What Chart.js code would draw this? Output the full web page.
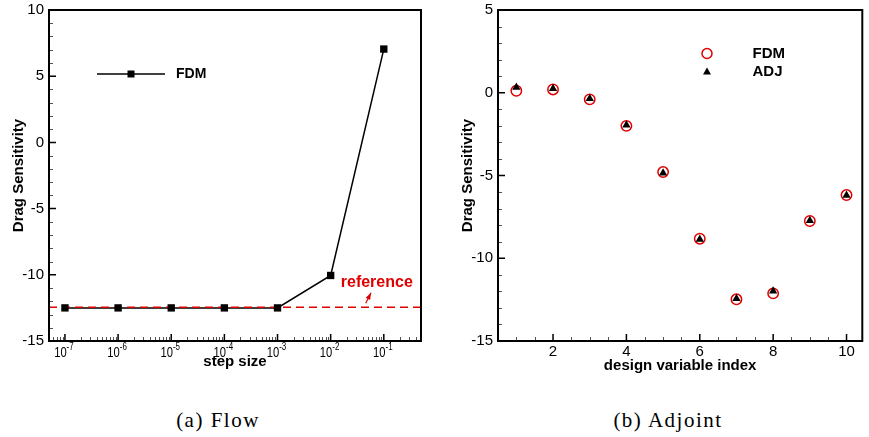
<!DOCTYPE html>
<html lang="en">
<head>
<meta charset="UTF-8">
<title>Drag Sensitivity</title>
<script src="https://cdn.jsdelivr.net/npm/chart.js"></script>
<style>
  body, html { margin: 0; padding: 0; background: #fff; }
  #wrap { position: relative; width: 869px; height: 437px; overflow: hidden; }
  canvas { position: absolute; top: 0; }
  #flowChart { left: 0; }
  #adjChart { left: 440px; }
  .cap { position: absolute; top: 410px; line-height: 21px; font-family: "Liberation Serif", "Times New Roman", serif;
         font-size: 21px; letter-spacing: 1.5px; transform: translateX(-50%); white-space: nowrap; color: #000; }
</style>
</head>
<body>
<div id="wrap">
  <canvas id="flowChart" width="440" height="380"></canvas>
  <canvas id="adjChart" width="429" height="380"></canvas>
  <div class="cap" style="left:218px">(a) Flow</div>
  <div class="cap" style="left:668px">(b) Adjoint</div>
</div>

<script>
// (a) flow: FDM sensitivity vs finite difference step size
const stepSizes = [1e-7, 1e-6, 1e-5, 1e-4, 1e-3, 1e-2, 1e-1];
const fdmFlow = [-12.5, -12.5, -12.5, -12.5, -12.5, -10.05, 7.05];
const referenceValue = -12.45;
const stepExponents = [-7, -6, -5, -4, -3, -2, -1];
const flowYTicks = [-15, -10, -5, 0, 5, 10];

// (b) adjoint: FDM vs ADJ per design variable
const designIndex = [1, 2, 3, 4, 5, 6, 7, 8, 9, 10];
const fdmAdj = [0.12, 0.2, -0.4, -2.0, -4.79, -8.82, -12.48, -12.12, -7.75, -6.18];
const adjAdj = [0.33, 0.25, -0.35, -1.95, -4.85, -8.86, -12.44, -11.98, -7.72, -6.2];
const adjXTicks = [2, 4, 6, 8, 10];
const adjYTicks = [-15, -10, -5, 0, 5];

const RED = '#e00000';
const SANS = '"Liberation Sans", Arial, sans-serif';
const FLOW_XMIN = Math.pow(10, -7.3), FLOW_XMAX = Math.pow(10, -0.3);

function range(a, b, step) {
  const out = [];
  for (let v = a; v <= b + 1e-9; v += step) out.push(Math.round(v * 100) / 100);
  return out;
}

function tick(ctx, x1, y1, x2, y2) { ctx.moveTo(x1, y1); ctx.lineTo(x2, y2); }

// draws frame, inward ticks, labels, titles and legend for one panel
const framePlugin = {
  id: 'frame',
  afterDraw(chart, args, cfg) {
    const { ctx, chartArea: a } = chart;
    const x = chart.scales.x, y = chart.scales.y;
    ctx.save();

    ctx.strokeStyle = '#555';
    ctx.lineWidth = 1;
    ctx.beginPath();
    cfg.yMinor.forEach(v => { const p = Math.round(y.getPixelForValue(v)) + 0.5; tick(ctx, a.left, p, a.left + 4, p); });
    cfg.xMinor.forEach(v => { const p = Math.round(x.getPixelForValue(v)) + 0.5; tick(ctx, p, a.bottom, p, a.bottom - 4); });
    ctx.stroke();

    ctx.strokeStyle = '#000';
    ctx.lineWidth = 1.5;
    ctx.beginPath();
    cfg.yMajor.forEach(v => { const p = y.getPixelForValue(v); tick(ctx, a.left, p, a.left + 7, p); });
    cfg.xMajor.forEach(v => { const p = x.getPixelForValue(v); tick(ctx, p, a.bottom, p, a.bottom - 7); });
    ctx.stroke();

    ctx.lineWidth = 2;
    ctx.strokeRect(a.left, a.top, a.right - a.left, a.bottom - a.top);

    // y tick labels
    ctx.fillStyle = '#000';
    ctx.font = '15px ' + SANS;
    ctx.textAlign = 'right';
    ctx.textBaseline = 'middle';
    cfg.yMajor.forEach(v => ctx.fillText(String(v), a.left - 5, y.getPixelForValue(v)));

    // x tick labels
    cfg.xLabel(ctx, x, a);

    // axis titles
    ctx.font = 'bold 15px ' + SANS;
    ctx.textAlign = 'center';
    ctx.textBaseline = 'middle';
    ctx.fillText(cfg.xTitle, (a.left + a.right) / 2, cfg.xTitleY);
    ctx.save();
    ctx.translate(cfg.yTitleX, (a.top + a.bottom) / 2);
    ctx.rotate(-Math.PI / 2);
    ctx.fillText('Drag Sensitivity', 0, 0);
    ctx.restore();

    cfg.extra(ctx, x, y, a);
    ctx.restore();
  }
};

function flowXLabels(ctx, x, a) {
  stepSizes.forEach((s, i) => {
    const px = x.getPixelForValue(s) - 1;
    const exp = String(stepExponents[i]);
    ctx.save();
    ctx.translate(px, 356.5);
    ctx.scale(0.8, 1);
    ctx.font = '14px ' + SANS;
    const w1 = ctx.measureText('10').width;
    ctx.font = '10px ' + SANS;
    const w2 = ctx.measureText(exp).width;
    const start = -(w1 + w2) / 2;
    ctx.textAlign = 'left';
    ctx.textBaseline = 'alphabetic';
    ctx.font = '14px ' + SANS;
    ctx.fillText('10', start, 0);
    ctx.font = '10px ' + SANS;
    ctx.fillText(exp, start + w1, -7);
    ctx.restore();
  });
}

function flowExtra(ctx, x, y, a) {
  // legend
  ctx.strokeStyle = '#000';
  ctx.lineWidth = 1.5;
  ctx.beginPath();
  ctx.moveTo(97, 74);
  ctx.lineTo(165, 74);
  ctx.stroke();
  ctx.fillStyle = '#000';
  ctx.fillRect(131 - 3.5, 74 - 3.5, 7, 7);
  ctx.font = 'bold 14px ' + SANS;
  ctx.textAlign = 'left';
  ctx.textBaseline = 'middle';
  ctx.fillText('FDM', 176, 74);

  // reference annotation
  ctx.fillStyle = RED;
  ctx.font = 'bold 16px ' + SANS;
  ctx.fillText('reference', x.getPixelForValue(Math.pow(10, -1.81)), y.getPixelForValue(-10.6));
  const x0 = x.getPixelForValue(Math.pow(10, -1.34)), y0 = y.getPixelForValue(-12.15);
  const x1 = x.getPixelForValue(Math.pow(10, -1.24)), y1 = y.getPixelForValue(-11.35);
  ctx.strokeStyle = RED;
  ctx.lineWidth = 1.2;
  ctx.beginPath();
  ctx.moveTo(x0, y0);
  ctx.lineTo(x1, y1);
  ctx.stroke();
  const ang = Math.atan2(y1 - y0, x1 - x0);
  ctx.beginPath();
  ctx.moveTo(x1, y1);
  ctx.lineTo(x1 - 7 * Math.cos(ang) + 2.5 * Math.sin(ang), y1 - 7 * Math.sin(ang) - 2.5 * Math.cos(ang));
  ctx.lineTo(x1 - 7 * Math.cos(ang) - 2.5 * Math.sin(ang), y1 - 7 * Math.sin(ang) + 2.5 * Math.cos(ang));
  ctx.closePath();
  ctx.fill();
}

function adjXLabels(ctx, x, a) {
  ctx.font = '15px ' + SANS;
  ctx.textAlign = 'center';
  ctx.textBaseline = 'alphabetic';
  adjXTicks.forEach(v => ctx.fillText(String(v), x.getPixelForValue(v), 356));
}

function adjExtra(ctx, x, y, a) {
  ctx.strokeStyle = RED;
  ctx.lineWidth = 1.5;
  ctx.beginPath();
  ctx.arc(267, 53.5, 5, 0, Math.PI * 2);
  ctx.stroke();
  ctx.fillStyle = '#000';
  ctx.beginPath();
  ctx.moveTo(267, 67.5);
  ctx.lineTo(271, 74.5);
  ctx.lineTo(263, 74.5);
  ctx.closePath();
  ctx.fill();
  ctx.font = 'bold 15px ' + SANS;
  ctx.textAlign = 'left';
  ctx.textBaseline = 'middle';
  ctx.fillText('FDM', 312.5, 53.5);
  ctx.fillText('ADJ', 312.5, 71.5);
}

const flowMinor = [];
for (let k = -8; k <= -1; k++) {
  for (let m = 2; m <= 9; m++) {
    const v = m * Math.pow(10, k);
    if (v > FLOW_XMIN && v < FLOW_XMAX) flowMinor.push(v);
  }
}

const hiddenAxis = { ticks: { display: false }, grid: { display: false }, border: { display: false } };
const flowPoints = stepSizes.map((s, i) => ({ x: s, y: fdmFlow[i] }));

new Chart(document.getElementById('flowChart'), {
  type: 'line',
  data: {
    datasets: [
      { data: flowPoints, borderColor: '#000', borderWidth: 1.5, pointRadius: 0, order: 3 },
      { data: [{ x: FLOW_XMIN, y: referenceValue }, { x: FLOW_XMAX, y: referenceValue }],
        borderColor: RED, borderDash: [8, 5], borderWidth: 1.5, pointRadius: 0, order: 2 },
      { data: flowPoints, showLine: false, pointStyle: 'rect', pointRadius: 5.2, pointBorderWidth: 0,
        pointBackgroundColor: '#000', order: 1 }
    ]
  },
  options: {
    responsive: false,
    animation: false,
    events: [],
    layout: { padding: { left: 0, top: 10, right: 19, bottom: 0 } },
    plugins: {
      legend: { display: false },
      tooltip: { enabled: false },
      frame: {
        yMajor: flowYTicks, yMinor: range(-15, 10, 1).filter(v => v % 5 !== 0),
        xMajor: stepSizes, xMinor: flowMinor,
        xLabel: flowXLabels, xTitle: 'step size', xTitleY: 362, yTitleX: 19, extra: flowExtra
      }
    },
    scales: {
      x: { type: 'logarithmic', min: FLOW_XMIN, max: FLOW_XMAX, ...hiddenAxis, afterFit: s => { s.height = 39; } },
      y: { type: 'linear', min: -15, max: 10, ...hiddenAxis, afterFit: s => { s.width = 49; } }
    }
  },
  plugins: [framePlugin]
});

new Chart(document.getElementById('adjChart'), {
  type: 'scatter',
  data: {
    datasets: [
      { data: designIndex.map((d, i) => ({ x: d, y: fdmAdj[i] })), pointStyle: 'circle', pointRadius: 5.2,
        pointBorderColor: RED, pointBorderWidth: 1.5, pointBackgroundColor: 'rgba(0,0,0,0)', order: 2 },
      { data: designIndex.map((d, i) => ({ x: d, y: adjAdj[i] })), pointStyle: 'triangle', pointRadius: 4.8,
        pointBorderWidth: 0, pointBackgroundColor: '#000', order: 1 }
    ]
  },
  options: {
    responsive: false,
    animation: false,
    events: [],
    layout: { padding: { left: 0, top: 10, right: 1, bottom: 0 } },
    plugins: {
      legend: { display: false },
      tooltip: { enabled: false },
      frame: {
        yMajor: adjYTicks, yMinor: range(-15, 5, 1).filter(v => v % 5 !== 0),
        xMajor: adjXTicks, xMinor: range(1, 10.4, 0.5).filter(v => v % 2 !== 0),
        xLabel: adjXLabels, xTitle: 'design variable index', xTitleY: 366, yTitleX: 27.5, extra: adjExtra
      }
    },
    scales: {
      x: { type: 'linear', min: 0.5, max: 10.43, ...hiddenAxis, afterFit: s => { s.height = 39; } },
      y: { type: 'linear', min: -15, max: 5, ...hiddenAxis, afterFit: s => { s.width = 58; } }
    }
  },
  plugins: [framePlugin]
});
</script>
</body>
</html>
